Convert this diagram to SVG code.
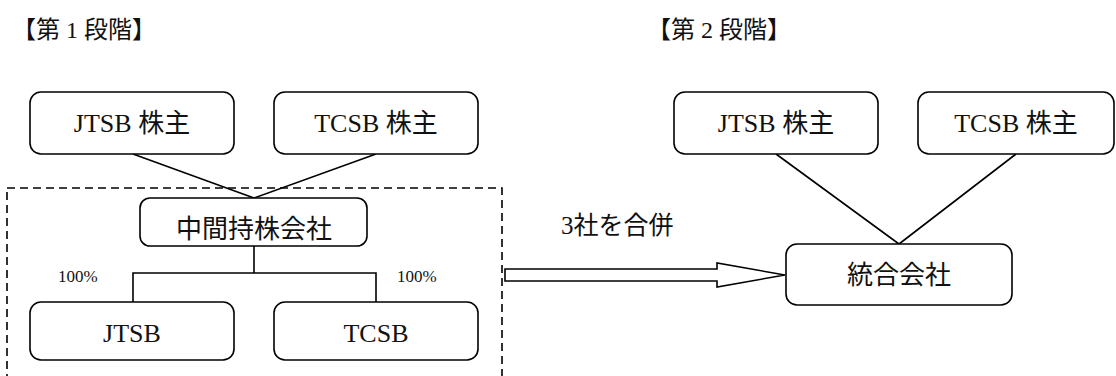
<svg xmlns="http://www.w3.org/2000/svg" width="1116" height="376" viewBox="0 0 1116 376">
<style>
.box{fill:#fff;stroke:#000;stroke-width:1.6}
.ln{fill:none;stroke:#000;stroke-width:1.6}
.t{font-family:"Liberation Serif","Noto Sans CJK JP",serif;fill:#111}
.lat{font-family:"Liberation Serif",serif}
.lbl{font-size:26px;text-anchor:middle}
.pct{font-size:17px}
.ttl{font-size:24px}
</style>
<rect width="1116" height="376" fill="#fff"/>
<text class="t ttl" x="12" y="38">【第 <tspan class="lat">1</tspan> 段階】</text>
<text class="t ttl" x="647" y="38">【第 <tspan class="lat">2</tspan> 段階】</text>
<rect x="7" y="188" width="495" height="200" fill="none" stroke="#000" stroke-width="1.6" stroke-dasharray="8 5"/>
<g id="connectors">
<path class="ln" d="M133,154 L254,198 M376,154 L254,198 M254,246 V273 M133,302 V273 H376 V302"/>
<path class="ln" d="M776,154 L899,244 M1016,154 L899,244"/>
<polygon class="box" points="505,269 717,269 717,263 785,275 717,287 717,281 505,281"/>
</g>
<g id="jtsb-holders-1"><rect class="box" x="30" y="92" width="204" height="62" rx="11"/><text class="t lbl" x="132" y="132"><tspan class="lat">JTSB </tspan>株主</text></g>
<g id="tcsb-holders-1"><rect class="box" x="274" y="92" width="204" height="62" rx="11"/><text class="t lbl" x="376" y="132"><tspan class="lat">TCSB </tspan>株主</text></g>
<g id="holding"><rect class="box" x="140" y="198" width="227" height="48" rx="10"/><text class="t lbl" x="254" y="238">中間持株会社</text></g>
<g id="jtsb"><rect class="box" x="30" y="302" width="204" height="58" rx="11"/><text class="t lbl" x="132" y="342">JTSB</text></g>
<g id="tcsb"><rect class="box" x="274" y="302" width="204" height="58" rx="11"/><text class="t lbl" x="376" y="342">TCSB</text></g>
<text class="t pct" x="58" y="282">100%</text>
<text class="t pct" x="397" y="282">100%</text>
<text class="t" x="561" y="234" font-size="25"><tspan class="lat">3</tspan>社を合併</text>
<g id="jtsb-holders-2"><rect class="box" x="674" y="92" width="204" height="62" rx="11"/><text class="t lbl" x="776" y="132"><tspan class="lat">JTSB </tspan>株主</text></g>
<g id="tcsb-holders-2"><rect class="box" x="918" y="92" width="196" height="62" rx="11"/><text class="t lbl" x="1016" y="132"><tspan class="lat">TCSB </tspan>株主</text></g>
<g id="merged"><rect class="box" x="786" y="244" width="226" height="61" rx="11"/><text class="t lbl" x="899" y="284">統合会社</text></g>
</svg>
